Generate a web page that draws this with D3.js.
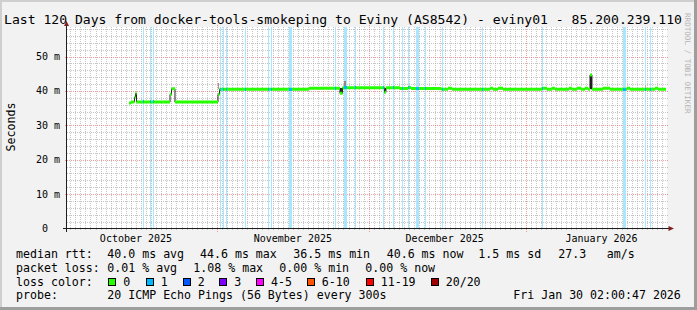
<!DOCTYPE html>
<html>
<head>
<meta charset="utf-8">
<script src="https://cdn.jsdelivr.net/npm/d3@7/dist/d3.min.js"></script>
<style>
  html, body { margin: 0; padding: 0; background: #f2f2f2; }
  svg { display: block; }
  text { font-family: "DejaVu Sans Mono", monospace; white-space: pre; }
</style>
</head>
<body>
<div id="chart"></div>
<script>
/* SmokePing style 120 day graph, median rtt + loss bars */

// ---- data ----
const title = "Last 120 Days from docker-tools-smokeping to Eviny (AS8542) - eviny01 - 85.200.239.110";
const yTicks      = [0, 10, 20, 30, 40, 50];
const yTickLabels = [" 0  ", "10 m", "20 m", "30 m", "40 m", "50 m"];
const monthLabels = ["October 2025", "November 2025", "December 2025", "January 2026"];

// median rtt as steps: start of step (days after graph start) and value in ms
const rttDay = [12.25, 12.65, 13.34, 13.54, 13.74, 20.36, 20.65, 21.34, 29.84, 30.14,
                47.83, 53.95, 54.45, 62.75, 63.04, 65.81, 67.39, 67.98, 74.0, 75.30,
                76.09, 83.60, 84.19, 85.18, 86.17, 93.87, 94.86, 95.85, 96.44, 99.21,
                99.80, 100.79, 101.58, 102.37, 102.96, 103.36, 103.75, 105.93, 107.31, 110.67,
                111.26, 116.21, 116.80];
const rttMs  = [36.5, 36.8, 38.2, 39.3, 36.8, 39.0, 40.6, 36.8, 39.0, 40.5,
                40.8, 39.3, 40.9, 39.6, 40.9, 40.7, 41.0, 40.7, 40.5, 40.8,
                40.5, 40.8, 40.5, 40.8, 40.5, 40.8, 40.5, 40.8, 40.5, 40.8,
                40.5, 40.8, 40.5, 40.8, 40.5, 44.6, 40.5, 40.8, 40.5, 40.8,
                40.5, 40.8, 40.5];
const rttEndDay = 118.38;

// intervals with packet loss (all in the "1" class): start day, number of rrd steps
const lossDay   = [15.02, 16.40, 17.00, 30.24, 30.83, 31.42, 35.18, 39.82, 40.22, 43.87,
                   53.06, 54.74, 56.92, 62.45, 64.43, 66.30, 67.49, 68.97, 70.85, 74.21,
                   81.92, 93.87, 109.88, 114.23, 115.22];
const lossSteps = [1, 1, 1, 1, 1, 1, 1, 1, 1, 3,
                   1, 3, 1, 1, 1, 1, 1, 3, 1, 1,
                   1, 1, 3, 1, 1];

// visible smoke (ping spread) bits: start day, steps, low ms, high ms, shade
const smokeDay   = [29.84, 53.95, 54.74, 62.75, 103.36, 114.23];
const smokeSteps = [1.5, 2, 2, 1.5, 2, 1];
const smokeLo    = [40.5, 39.2, 40.9, 39.6, 40.5, 40.6];
const smokeHi    = [42.4, 40.8, 42.8, 40.8, 44.6, 41.7];
const smokeShade = ["#9a9a9a", "#2a2a2a", "#8a8a8a", "#2a2a2a", "#222222", "#b0b0b0"];

const lossLevels = ["0", "1", "2", "3", "4-5", "6-10", "11-19", "20/20"];
const lossColors = ["#26ff00", "#00b8ff", "#0059ff", "#7e00ff", "#ff00ff", "#ff5500", "#ff0000", "#a10000"];

const rttStats  = ["median rtt:", "40.0 ms avg", "44.6 ms max", "36.5 ms min", "40.6 ms now", "1.5 ms sd", "27.3", "am/s"];
const lossStats = ["packet loss:", "0.01 % avg", "1.08 % max", "0.00 % min", "0.00 % now"];
const probeInfo = ["probe:", "20 ICMP Echo Pings (56 Bytes) every 300s", "Fri Jan 30 02:00:47 2026"];

// ---- layout ----
const W = 697, H = 310;
const X0 = 67, X1 = 667, Y0 = 228.5, Y1 = 27;
const DAY = 864e5;
const t0 = Date.UTC(2025, 9, 2, 8, 44);
const spanDays = 118.58;
const yMax = 58.58;
const at = d => new Date(t0 + d * DAY);
const stepDays = spanDays / 600;     // one rrd row per pixel

const x = d3.scaleUtc().domain([at(0), at(spanDays)]).range([X0, X1]);
const y = d3.scaleLinear().domain([0, yMax]).range([Y0, Y1]);

const svg = d3.select("#chart").append("svg")
  .attr("width", W).attr("height", H)
  .attr("viewBox", `0 0 ${W} ${H}`);

// background + bevel
svg.append("rect").attr("width", W).attr("height", H).attr("fill", "#f2f2f2");
svg.append("rect").attr("x", 0).attr("y", 0).attr("width", W).attr("height", 2).attr("fill", "#cfcfcf");
svg.append("rect").attr("x", 0).attr("y", 0).attr("width", 2).attr("height", H).attr("fill", "#cfcfcf");
svg.append("rect").attr("x", W - 3).attr("y", 0).attr("width", 3).attr("height", H).attr("fill", "#9e9e9e");
svg.append("rect").attr("x", 0).attr("y", H - 3).attr("width", W).attr("height", 3).attr("fill", "#9e9e9e");

// canvas
svg.append("rect").attr("x", X0).attr("y", Y1).attr("width", X1 - X0).attr("height", Y0 - Y1).attr("fill", "#fff");

// ---- grid ----
const grid = svg.append("g").attr("shape-rendering", "crispEdges").attr("stroke-dasharray", "1,1");
const minorY = d3.range(2, yMax, 2).filter(v => v % 10 !== 0);
grid.selectAll(".gy").data(minorY).join("line")
  .attr("x1", X0).attr("x2", X1 + 2)
  .attr("y1", d => Math.round(y(d)) + 0.5).attr("y2", d => Math.round(y(d)) + 0.5)
  .attr("stroke", "rgba(143,143,143,0.5)");

const months = d3.utcMonth.range(x.domain()[0], x.domain()[1]);
const days = d3.utcDay.range(x.domain()[0], x.domain()[1])
  .filter(d => !months.some(m => +m === +d));
grid.selectAll(".gx").data(days).join("line")
  .attr("x1", d => Math.round(x(d)) + 0.5).attr("x2", d => Math.round(x(d)) + 0.5)
  .attr("y1", Y1).attr("y2", Y0 + 2)
  .attr("stroke", "rgba(143,143,143,0.5)");

grid.selectAll(".my").data(yTicks.filter(v => v > 0)).join("line")
  .attr("x1", X0 - 2).attr("x2", X1 + 2)
  .attr("y1", d => Math.round(y(d)) + 0.5).attr("y2", d => Math.round(y(d)) + 0.5)
  .attr("stroke", "rgba(222,79,79,0.55)");
grid.selectAll(".mx").data(months).join("line")
  .attr("x1", d => Math.round(x(d)) + 0.5).attr("x2", d => Math.round(x(d)) + 0.5)
  .attr("y1", Y1 - 2).attr("y2", Y0 + 3)
  .attr("stroke", "rgba(222,79,79,0.55)");

// ---- plot ----
svg.append("clipPath").attr("id", "plot")
  .append("rect").attr("x", X0).attr("y", Y1).attr("width", X1 - X0).attr("height", Y0 - Y1);
const plot = svg.append("g").attr("clip-path", "url(#plot)");

// loss bars, full height in a light tint of the loss colour
const lossTint = d3.interpolateRgb("#ffffff", lossColors[1])(0.34);
plot.append("g").attr("shape-rendering", "crispEdges")
  .selectAll("rect").data(lossDay).join("rect")
  .attr("x", d => x(at(d)))
  .attr("width", (d, i) => x(at(d + lossSteps[i] * stepDays)) - x(at(d)))
  .attr("y", Y1).attr("height", Y0 - Y1)
  .attr("fill", lossTint);

// smoke
plot.append("g").attr("shape-rendering", "crispEdges")
  .selectAll("rect").data(smokeDay).join("rect")
  .attr("x", d => x(at(d)))
  .attr("width", (d, i) => x(at(d + smokeSteps[i] * stepDays)) - x(at(d)))
  .attr("y", (d, i) => y(smokeHi[i]))
  .attr("height", (d, i) => y(smokeLo[i]) - y(smokeHi[i]))
  .attr("fill", (d, i) => smokeShade[i]);

const rtt = rttDay.map((d, i) => ({ day: d, ms: rttMs[i] }));
rtt.push({ day: rttEndDay, ms: rttMs[rttMs.length - 1] });

// thin dark median line (shows at the steps)
plot.append("path").datum(rtt)
  .attr("d", d3.line().curve(d3.curveStepAfter).x(d => x(at(d.day))).y(d => y(d.ms)))
  .attr("fill", "none").attr("stroke", "#202020").attr("stroke-width", 1);

// loss-coloured median band
plot.append("path").datum(rtt)
  .attr("d", d3.area().curve(d3.curveStepAfter)
    .x(d => x(at(d.day)))
    .y0(d => y(d.ms) + 1.5)
    .y1(d => y(d.ms) - 1.5))
  .attr("fill", lossColors[0]);

// band takes the loss colour where packets were lost
const msAt = d => rttMs[Math.max(0, d3.bisectRight(rttDay, d) - 1)];
plot.append("g").attr("shape-rendering", "crispEdges")
  .selectAll("rect").data(lossDay.filter(d => d >= rttDay[0])).join("rect")
  .attr("x", d => x(at(d)))
  .attr("width", d => x(at(d + lossSteps[lossDay.indexOf(d)] * stepDays)) - x(at(d)))
  .attr("y", d => y(msAt(d)) - 1.5).attr("height", 3)
  .attr("fill", lossColors[1]);

// ---- axes ----
const axis = svg.append("g").attr("shape-rendering", "crispEdges");
axis.append("line").attr("x1", X0 - 4).attr("x2", X1 + 2).attr("y1", 228.5).attr("y2", 228.5)
  .attr("stroke", "#1f1f1f");
axis.append("line").attr("x1", X0 - 0.5).attr("x2", X0 - 0.5).attr("y1", Y0 + 3).attr("y2", Y1 - 2)
  .attr("stroke", "#1f1f1f");
svg.append("path")
  .attr("d", `M${X1 + 1.5},${Y0 - 2.5}L${X1 + 7},${Y0}L${X1 + 1.5},${Y0 + 2.5}Z`)
  .attr("fill", "#7f1f1f");
svg.append("path")
  .attr("d", `M${X0 - 3},${Y1 - 1}L${X0 - 0.5},${Y1 - 6}L${X0 + 2},${Y1 - 1}Z`)
  .attr("fill", "#7f1f1f");

// y tick labels
svg.append("g").selectAll("text").data(yTicks).join("text")
  .attr("x", 60).attr("y", d => y(d) + 3.5)
  .attr("text-anchor", "end").attr("font-size", 10).attr("fill", "#000")
  .text((d, i) => yTickLabels[i]);

// month labels centred half a month after the month start
const labelMonths = d3.utcMonth.range(d3.utcMonth.floor(x.domain()[0]), x.domain()[1]);
svg.append("g").selectAll("text").data(labelMonths).join("text")
  .attr("x", d => x(d3.utcDay.offset(d, 15)))
  .attr("y", 241.5)
  .attr("text-anchor", "middle").attr("font-size", 10).attr("fill", "#000")
  .text((d, i) => monthLabels[i]);

// title, unit, watermark
svg.append("text").attr("x", 4).attr("y", 24)
  .attr("font-size", 13.1).attr("fill", "#000").text(title);
svg.append("text").attr("transform", "translate(15,127) rotate(-90)")
  .attr("text-anchor", "middle").attr("font-size", 11.6).attr("fill", "#000").text("Seconds");
svg.append("text").attr("transform", "translate(685,13) rotate(90)")
  .attr("font-size", 7.6).attr("fill", "#b4b4b4").text("RRDTOOL / TOBI OETIKER");

// ---- legend ----
const legend = svg.append("g").attr("font-size", 11.6).attr("fill", "#000");
const rttX   = [16, 107.3, 200, 293.3, 386.7, 478.3, 558.3, 606.7];
const lossX  = [16, 107.3, 193.3, 279.3, 365.3];
const probeX = [16, 107.3, 513.3];
const swatchX = [108.3, 145.7, 182.7, 219.3, 256, 306.7, 365.7, 430.7];

legend.append("g").selectAll("text").data(rttStats).join("text")
  .attr("x", (d, i) => rttX[i]).attr("y", 258).text(d => d);
legend.append("g").selectAll("text").data(lossStats).join("text")
  .attr("x", (d, i) => lossX[i]).attr("y", 271.7).text(d => d);
legend.append("text").attr("x", 16).attr("y", 285.5).text("loss color:");
const sw = legend.append("g").selectAll("g").data(lossLevels).join("g");
sw.append("rect")
  .attr("x", (d, i) => Math.round(swatchX[i]) + 0.5).attr("y", 278.5)
  .attr("width", 7).attr("height", 7)
  .attr("fill", (d, i) => lossColors[i]).attr("stroke", "#000");
sw.append("text")
  .attr("x", (d, i) => swatchX[i] + 15).attr("y", 285.5).text(d => d);
legend.append("g").selectAll("text").data(probeInfo).join("text")
  .attr("x", (d, i) => probeX[i]).attr("y", 299).text(d => d);
</script>
</body>
</html>
